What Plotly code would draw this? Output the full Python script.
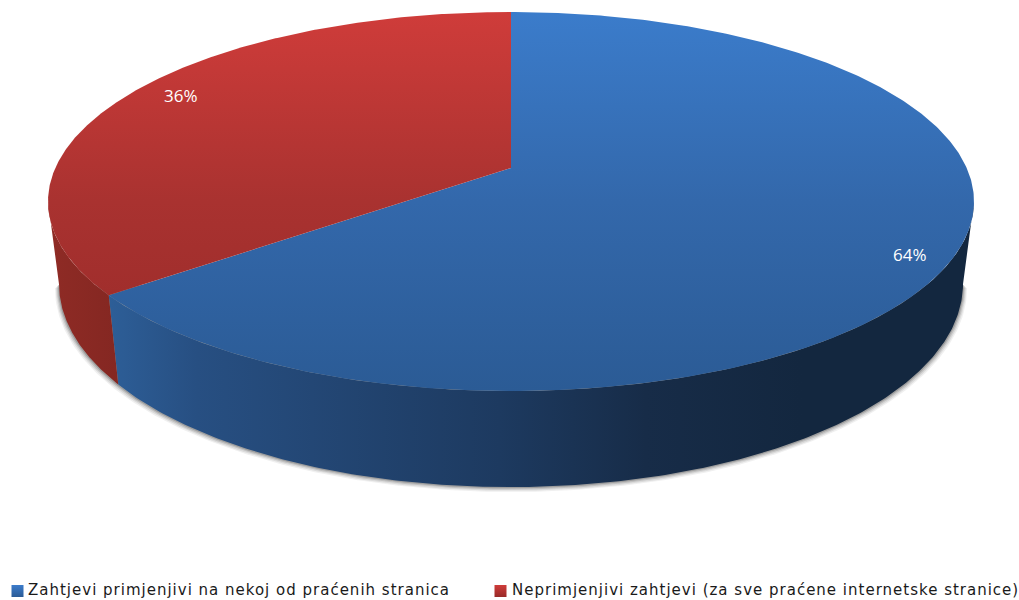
import math
import plotly.graph_objects as go

# ---- data ----
categories = ["Zahtjevi primjenjivi na nekoj od praćenih stranica",
              "Neprimjenjivi zahtjevi (za sve praćene internetske stranice)"]
values = [64.4, 35.6]
pct_labels = ["64%", "36%"]

# ---- pie geometry (perspective projection of a disc onto the page) ----
CX = 511.0
TILT = 0.1768
TOP_K, TOP_A, TOP_B = 455.7, -153.9, 168.0
BOT_K, BOT_A, BOT_B = 444.9, -153.0, 248.0


def project(theta, k, a, b):
    """theta is clockwise from 12 o'clock, in radians."""
    X, Y = math.sin(theta), math.cos(theta)
    d = 1 + TILT * Y
    return CX + k * X / d, (a * Y + b) / d


def arc(t0, t1, k, a, b, n=240):
    pts = [project(t0 + (t1 - t0) * i / n, k, a, b) for i in range(n + 1)]
    return [p[0] for p in pts], [p[1] for p in pts]


total = sum(values)
sweep = [2 * math.pi * v / total for v in values]
edge = sweep[0]                     # blue -> red boundary, clockwise from top
side_r = math.acos(-TILT)           # silhouette angle on the right
side_l = 2 * math.pi - side_r       # silhouette angle on the left

fig = go.Figure()

# soft shadow under the body
for off, op in [(4, 0.08), (3, 0.12), (2, 0.18), (1, 0.28)]:
    xs, ys = arc(side_r, side_l, BOT_K + off, BOT_A, BOT_B + off)
    fig.add_trace(go.Scatter(x=xs, y=ys, mode="lines", fill="toself", line=dict(width=0),
                             fillcolor=f"rgba(70,70,70,{op})", hoverinfo="skip", showlegend=False))


def wall(t0, t1, gradient, x0, x1):
    tx, ty = arc(t0, t1, TOP_K, TOP_A, TOP_B)
    bx, by = arc(t1, t0, BOT_K, BOT_A, BOT_B)
    fig.add_trace(go.Scatter(x=tx + bx, y=ty + by, mode="lines", fill="toself",
                             line=dict(width=0), hoverinfo="skip", showlegend=False,
                             fillgradient=dict(type="horizontal", start=x0, stop=x1, colorscale=gradient)))


wall(side_r, edge,
     [[0, "#2D5E97"], [0.10, "#274F82"], [0.45, "#1D3A60"], [0.62, "#172C48"], [0.8, "#13273F"], [1, "#13273F"]],
     110, 975)
wall(edge, side_l, [[0, "#8F2B25"], [1, "#842722"]], 48, 120)


def face(t0, t1, gradient):
    xs, ys = arc(t0, t1, TOP_K, TOP_A, TOP_B, n=400)
    fig.add_trace(go.Scatter(x=[CX] + xs + [CX], y=[TOP_B] + ys + [TOP_B], mode="lines", fill="toself",
                             line=dict(width=0), hoverinfo="skip", showlegend=False,
                             fillgradient=dict(type="vertical", start=12, stop=391, colorscale=gradient)))


face(0, sweep[0], [[0, "#3B7CCB"], [0.5, "#3368AB"], [1, "#2B5B95"]])
face(sweep[0], 2 * math.pi, [[0, "#CF3C3A"], [0.5, "#A93230"], [1, "#982A28"]])

# ---- legend, drawn as real text beside square keys ----
legend_x = [17.5, 500.5]
legend_text_center = [238.5, 765]
legend_colors = [("#3C7CCB", "#2B5B95"), ("#CF3C3A", "#982A28")]
for cat, kx, tx, (c0, c1) in zip(categories, legend_x, legend_text_center, legend_colors):
    fig.add_trace(go.Scatter(x=[kx], y=[591], mode="markers", hoverinfo="skip", showlegend=False,
                             marker=dict(symbol="square", size=12, color=c0, line=dict(width=0),
                                         gradient=dict(type="vertical", color=c1))))
    fig.add_annotation(x=tx, y=590, text=cat, showarrow=False, xanchor="center", yanchor="middle",
                       borderpad=0, font=dict(family="DejaVu Sans", size=15, color="#1a1a1a"))

# ---- percent labels ----
label_pos = [(910, 254), (181, 95)]
for txt, (lx, ly) in zip(pct_labels, label_pos):
    fig.add_annotation(x=lx, y=ly, text=txt, showarrow=False, xanchor="center", yanchor="middle",
                       font=dict(family="Open Sans", size=17, color="#ffffff"))

fig.update_layout(width=1019, height=600, autosize=False,
                  margin=dict(l=0, r=0, t=0, b=0),
                  paper_bgcolor="white", plot_bgcolor="white", showlegend=False,
                  xaxis=dict(range=[0, 1019], visible=False, fixedrange=True),
                  yaxis=dict(range=[600, 0], visible=False, fixedrange=True))

# the reference legend text is loosely tracked; plotly has no letter-spacing option
post = """
document.body.style.margin='0';
var gd=document.getElementById('{plot_id}');
function track(){
  gd.querySelectorAll('.annotation-text').forEach(function(t){
    if(t.textContent.length>5){t.style.letterSpacing='1px';}
  });
}
track();
gd.on('plotly_afterplot',track);
"""
fig.write_html("out.html", config=dict(displayModeBar=False), post_script=post)
